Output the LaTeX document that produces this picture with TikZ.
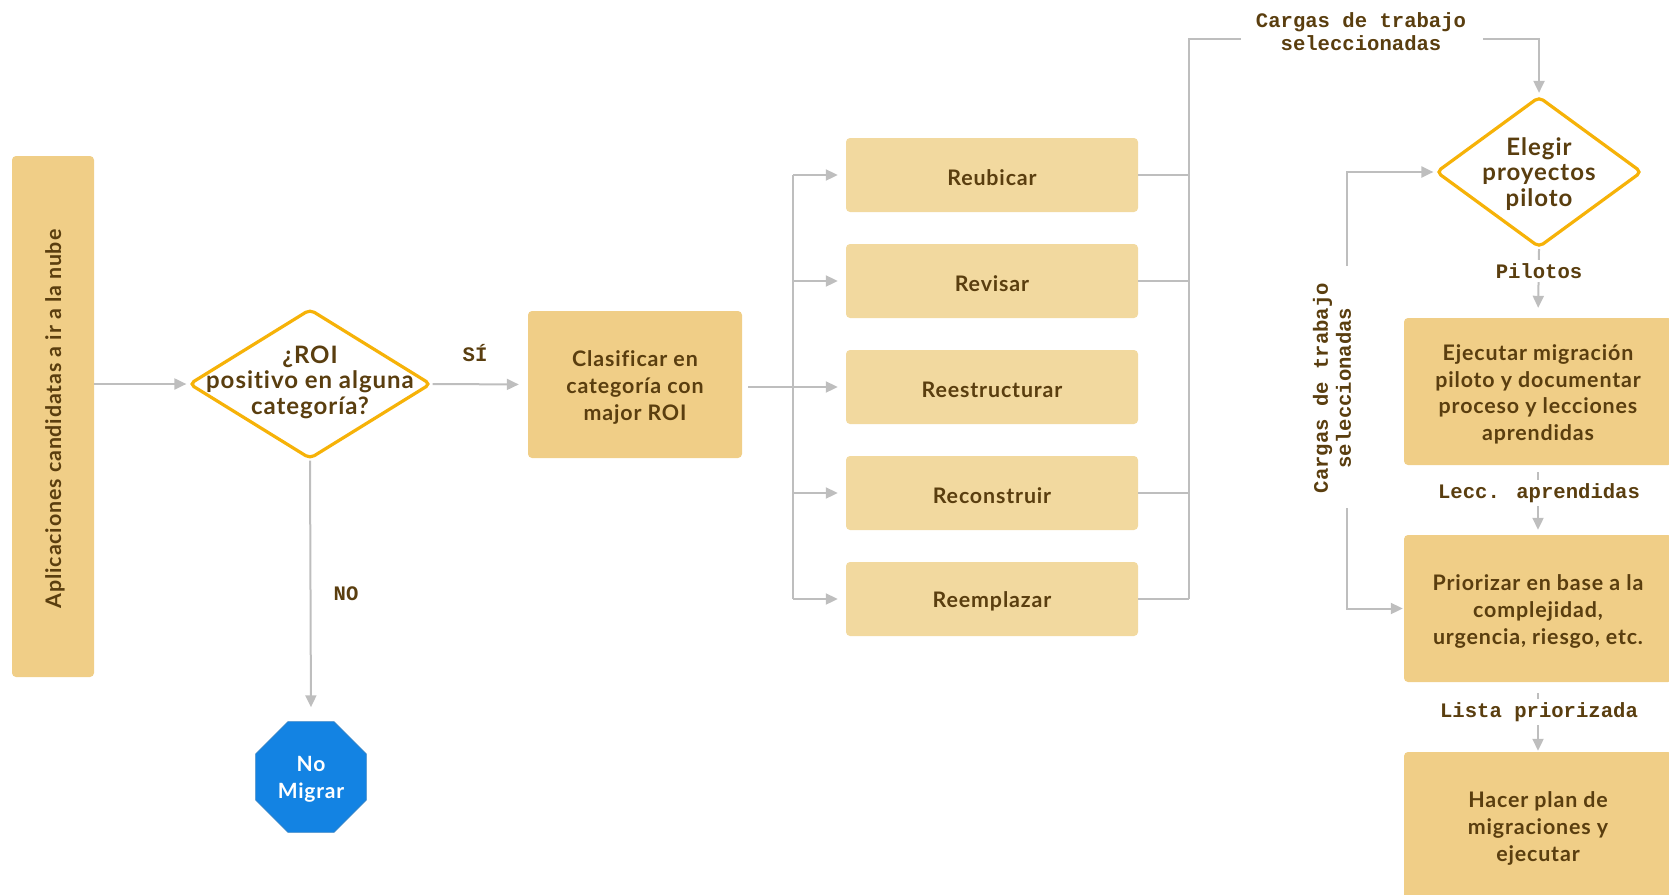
\documentclass[tikz,border=0pt]{standalone}
\usepackage{fontspec}
\usetikzlibrary{shapes.geometric,arrows.meta}
\newfontfamily\boxfont{Lato}[LetterSpace=4,Ligatures=NoCommon]
\newfontfamily\flowmono{Liberation Mono}
\definecolor{ink}{RGB}{90,62,15}
\definecolor{boxgold}{RGB}{240,206,135}
\definecolor{boxlight}{RGB}{242,217,159}
\definecolor{decgold}{RGB}{246,178,8}
\definecolor{linegray}{RGB}{190,190,190}
\definecolor{stopblue}{RGB}{19,131,227}
\tikzset{
  conn/.style={draw=linegray, line width=2pt},
  arr/.style={conn, -{Triangle[length=12pt,width=11pt]}, shorten >=8pt},
  % a tall first-line strut sets one-line text a little below the box centre
  lowered/.style={execute at begin node={\rule{0pt}{21pt}}},
  boxtext/.style={text=ink, align=center, inner sep=0pt, font=\boxfont\bfseries\fontsize{21.4}{26.6}\selectfont},
  mainbox/.style={rectangle, rounded corners=4pt, inner sep=0pt, fill=boxgold},
  optbox/.style={boxtext, lowered, rectangle, rounded corners=4pt, inner sep=0pt, fill=boxlight,
                 minimum width=292pt, minimum height=74pt},
  decision/.style={diamond, draw=decgold, line width=3.2pt, fill=white, rounded corners=5pt, inner sep=0pt},
  dectext/.style={text=ink, align=center, inner sep=0pt, font=\boxfont\bfseries\fontsize{24}{25.5}\selectfont},
  flowlabel/.style={text=ink, align=center, font=\flowmono\bfseries\fontsize{20.6}{23}\selectfont},
  gaplabel/.style={flowlabel, fill=white, inner xsep=2pt, inner ysep=3pt},
}
\begin{document}
\begin{tikzpicture}[x=1pt,y=-1pt]
\useasboundingbox (0,0) rectangle (1669,894);

% candidate applications
\node[mainbox, minimum width=82pt, minimum height=521pt] (apps) at (53,416.5) {};
\node[boxtext, rotate=90] (appsT) at (55,419) {Aplicaciones candidatas a ir a la nube};

% ROI decision
\node[decision, minimum width=242pt, minimum height=150pt] (roi) at (310,384) {};
\node[dectext] (roiT) at (310,382) {¿ROI\\positivo en alguna\\categoría?};

% classification
\node[mainbox, minimum width=214pt, minimum height=147pt] (clas) at (635,384.5) {};
\node[boxtext] (clasT) at (635,387.5) {Clasificar en\\categoría con\\major ROI};

% stop
\node[regular polygon, regular polygon sides=8, minimum size=120pt, inner sep=0pt,
      fill=stopblue, draw=stopblue!70!gray, line width=0.6pt] (nomig) at (311,777) {};
\node[text=white, align=center, inner sep=0pt, font=\boxfont\bfseries\fontsize{21}{27}\selectfont]
      (nomigT) at (311,779) {No\\Migrar};

% the five migration strategies
\node[optbox] (reub)  at (992,175) {Reubicar};
\node[optbox] (revi)  at (992,281) {Revisar};
\node[optbox] (reest) at (992,387) {Reestructurar};
\node[optbox] (reco)  at (992,493) {Reconstruir};
\node[optbox] (reem)  at (992,599) {Reemplazar};

% pilot choice
\node[decision, minimum width=206pt, minimum height=151pt] (elegir) at (1539,172) {};
\node[dectext] (elegirT) at (1539,174) {Elegir\\proyectos\\piloto};

% right column
\node[mainbox, minimum width=268pt, minimum height=147pt] (ejec) at (1538,391.5) {};
\node[boxtext] (ejecT) at (1538,394.5) {Ejecutar migración\\piloto y documentar\\proceso y lecciones\\aprendidas};
\node[mainbox, minimum width=268pt, minimum height=147pt] (prio) at (1538,608.5) {};
\node[boxtext] (prioT) at (1538,611.5) {Priorizar en base a la\\complejidad,\\urgencia, riesgo, etc.};
\node[mainbox, minimum width=268pt, minimum height=148pt] (hacer) at (1538,826) {};
\node[boxtext] (hacerT) at (1538,828.5) {Hacer plan de\\migraciones y\\ejecutar};

% routing points
\coordinate (busL) at (793,387);
\coordinate (busR) at (1189,39);
\coordinate (topL) at (1241,39);
\coordinate (topR) at (1483,39);
\coordinate (sideTop) at (1347,266);
\coordinate (sideBot) at (1347,508);

% left part
\draw[arr, shorten >=1pt] (apps.east |- roi) -- (roi.west);
\draw[arr, shorten >=9pt] (roi.east) -- (clas.west);
\draw[arr, shorten >=14pt] (roi.south) -- (nomig.north);
\node[flowlabel] (si) at (475,353) {SÍ};
\node[flowlabel] (no) at (346,594) {NO};

% fan out to the strategies
\draw[conn] (busL |- reub) -- (busL |- reem);
\draw[arr, shorten <=6pt] (clas.east |- reest) -- (reest.west);
\foreach \n in {reub,revi,reco,reem}
  \draw[arr] (busL |- \n) -- (\n.west);

% collect selected workloads
\foreach \n in {reub,revi,reco,reem}
  \draw[conn] (\n.east) -- (busR |- \n);
\draw[conn] (busR |- reem) -- (busR) -- (topL);
\draw[arr, shorten >=2pt] (topR) -| (elegir.north);
\node[flowlabel] (cargasTop) at (1361,32) {Cargas de trabajo\\seleccionadas};

% side route
\draw[arr, shorten >=1pt] (sideTop) |- (elegir.west);
\draw[arr, shorten >=1pt] (sideBot) |- (prio.west);
\node[flowlabel, rotate=90] (cargasSide) at (1332,388) {Cargas de trabajo\\seleccionadas};

% right column flow
\draw[arr, shorten >=10pt] (elegir.south) -- (ejec.north);
\node[gaplabel] (pil) at (1539,271) {Pilotos};
\draw[arr, shorten <=7pt, shorten >=5pt] (ejec.south) -- (prio.north);
\node[gaplabel] (lecc) at (1539,493) {Lecc. aprendidas};
\draw[arr, shorten <=11pt, shorten >=1pt] (prio.south) -- (hacer.north);
\node[gaplabel] (lista) at (1539,712) {Lista priorizada};
\end{tikzpicture}
\end{document}
